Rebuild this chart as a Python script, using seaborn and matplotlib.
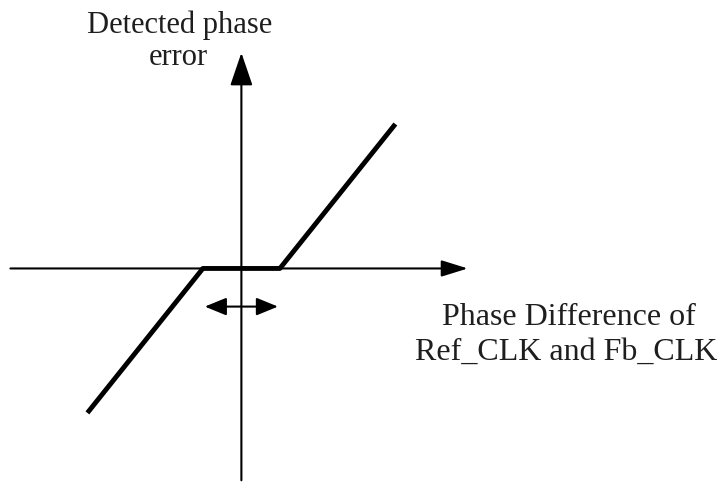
import matplotlib
matplotlib.use("Agg")
import matplotlib.pyplot as plt
import seaborn as sns
import pandas as pd

sns.set_theme(style="white")
plt.rcParams['font.family'] = ['Liberation Serif', 'DejaVu Serif']

# transfer curve of a phase detector with a dead zone (arbitrary units)
phase_diff = [-4.0, -1.0, 1.0, 4.0]
phase_err = [-3.75, 0.0, 0.0, 3.75]

# axis extents and dead-zone marker
x_axis = [-6.0, 5.88]
y_axis = [-5.5, 5.6]
dead_zone = [-0.95, 0.95]
dead_zone_y = -0.99

y_label = ["Detected phase", "error"]
x_label = ["Phase Difference of", "Ref_CLK and Fb_CLK"]

df = pd.DataFrame({"x": phase_diff, "y": phase_err})

fig = plt.figure(figsize=(7.23, 4.88), dpi=100)
ax = fig.add_axes([0, 0, 1, 1])
ax.set_xlim(-6.27, 12.51)
ax.set_ylim(-5.70, 6.97)
ax.axis("off")

# axes with arrows
ax.annotate("", xy=(x_axis[1], 0), xytext=(x_axis[0], 0),
            arrowprops=dict(arrowstyle="-|>,head_length=1.35,head_width=0.42",
                            color="black", lw=1.5, shrinkA=0, shrinkB=0))
ax.annotate("", xy=(0, y_axis[1]), xytext=(0, y_axis[0]),
            arrowprops=dict(arrowstyle="-|>,head_length=1.7,head_width=0.58",
                            color="black", lw=1.5, shrinkA=0, shrinkB=0))

sns.lineplot(data=df, x="x", y="y", ax=ax, color="black", lw=3.5,
             sort=False, solid_capstyle="butt")

# dead zone double arrow
ax.annotate("", xy=(dead_zone[1], dead_zone_y), xytext=(dead_zone[0], dead_zone_y),
            arrowprops=dict(arrowstyle="<|-|>,head_length=1.1,head_width=0.45",
                            color="black", lw=1.5, shrinkA=0, shrinkB=0))

txt = dict(ha="center", va="baseline", color="#1e1e1e")
ax.text(-1.60, 6.12, y_label[0], fontsize=22, **txt)
ax.text(-1.65, 5.29, y_label[1], fontsize=22, **txt)
ax.text(8.51, -1.47, x_label[0], fontsize=23, **txt)
ax.text(8.43, -2.38, x_label[1], fontsize=23, **txt)

fig.savefig("out.png", dpi=100)
